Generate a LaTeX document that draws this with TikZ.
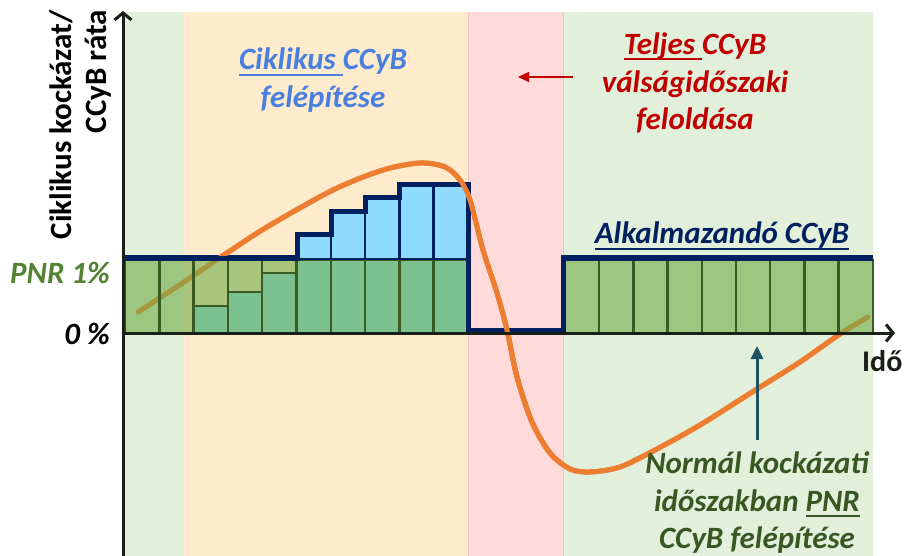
\documentclass[tikz,border=0pt]{standalone}
\usepackage{fontspec}
\setmainfont{Carlito}
\usetikzlibrary{arrows.meta}
\definecolor{bggreen}{HTML}{E2EFDA}
\definecolor{bgorange}{HTML}{FDEBCB}
\definecolor{bgpink}{HTML}{FFDADA}
\definecolor{pinkedge}{HTML}{F5C2C2}
\definecolor{xlgreen}{HTML}{70AD47}
\definecolor{tealgreen}{HTML}{7BC08F}
\definecolor{skyblue}{HTML}{8EDBFF}
\definecolor{navyc}{HTML}{002060}
\definecolor{barline}{HTML}{3A5A24}
\definecolor{curveor}{HTML}{ED7D31}
\definecolor{darkred}{HTML}{C00000}
\definecolor{txtblue}{HTML}{4A7FE0}
\definecolor{pnrgreen}{HTML}{548235}
\definecolor{dkgreen}{HTML}{385723}
\definecolor{arrteal}{HTML}{1F5361}
\definecolor{axiscol}{HTML}{1A1F17}
\newcommand\myul[1]{\setbox0=\hbox{#1}\rlap{\rule[-0.19em]{\wd0}{0.065em}}\box0}
\tikzset{
  lbl/.style={font=\fontsize{31}{37.5}\selectfont\bfseries\itshape, align=center, inner sep=0pt},
  curvestyle/.style={curveor, line width=5pt, line cap=round},
  curvepath/.style={insert path={plot[smooth, tension=0.5] coordinates {(138,312) (178,286) (218,259) (267,227) (333,190) (383,170) (420,163) (445,167) (460,180) (470,200) (483,250) (497,293) (507,330) (517,377) (532,422) (550,453) (570,469) (590,472) (620,467) (655,450) (700,425) (757,389) (800,362) (840,334) (868,317)}}},
  lgbar/.style={fill=xlgreen, fill opacity=0.6, draw=barline, draw opacity=1, line width=2.5pt},
  tgbar/.style={fill=tealgreen, draw=barline, line width=2.5pt},
  blbar/.style={fill=skyblue, draw=navyc, line width=2.5pt},
  axisline/.style={axiscol, line width=3pt, -{Straight Barb[length=7pt,width=17pt]}}
}
\begin{document}
\begin{tikzpicture}[x=1pt,y=-1pt]
\useasboundingbox (0,0) rectangle (905,556);
% background bands
\fill[bggreen] (123,12) rectangle (184,556);
\fill[bgorange] (184,12) rectangle (468,556);
\fill[bgpink] (468,12) rectangle (563,556);
\fill[bggreen] (563,12) rectangle (873,556);
\draw[pinkedge, line width=0.8pt] (468,12) -- (468,556) (563,12) -- (563,556);
% curve under bars
\draw[curvestyle, curvepath];
% left bars
\foreach \i in {0,...,9}{
  \pgfmathsetmacro\xa{125+\i*34.3}
  \pgfmathsetmacro\xb{125+(\i+1)*34.3}
  \draw[lgbar] (\xa,260) rectangle (\xb,333);
}
\foreach \i/\t in {2/306,3/292,4/273,5/260,6/260,7/260,8/260,9/260}{
  \pgfmathsetmacro\xa{125+\i*34.3}
  \pgfmathsetmacro\xb{125+(\i+1)*34.3}
  \draw[tgbar] (\xa,\t) rectangle (\xb,333);
}
\foreach \i/\t in {5/235,6/212,7/198,8/185,9/185}{
  \pgfmathsetmacro\xa{125+\i*34.3}
  \pgfmathsetmacro\xb{125+(\i+1)*34.3}
  \draw[blbar] (\xa,\t) rectangle (\xb,259);
}
% right bars
\foreach \i in {0,...,8}{
  \pgfmathsetmacro\xa{565+\i*34.2}
  \pgfmathsetmacro\xb{565+(\i+1)*34.2}
  \draw[lgbar] (\xa,260) rectangle (\xb,333);
}
% applied CCyB line
\draw[navyc, line width=5pt, line join=miter] (125,258) -- (297,258) -- (297,235) -- (331,235) -- (331,212) -- (365,212) -- (365,198) -- (399,198) -- (399,185) -- (468,185) -- (468,330) -- (563,330) -- (563,258) -- (873,258);
% curve above everything outside bars
\begin{scope}
  \clip (0,0) rectangle (905,256);
  \draw[curvestyle, curvepath];
\end{scope}
\begin{scope}
  \clip (470,256) rectangle (561,556);
  \draw[curvestyle, curvepath];
\end{scope}
\begin{scope}
  \clip (0,335) rectangle (905,556);
  \draw[curvestyle, curvepath];
\end{scope}
% axes
\coordinate (yb) at (123,556);
\coordinate (yt) at (123,11);
\coordinate (xl) at (123,333);
\coordinate (xr) at (895,333);
\draw[axisline] (yb) -- (yt);
\draw[axisline] (xl) -- (xr);
% labels
\node[font=\fontsize{31}{35}\selectfont\bfseries, rotate=90, anchor=east, align=right, inner sep=0pt] (ylab) at (81,10) {Ciklikus kockázat/\\CCyB ráta};
\node[lbl, text=txtblue] (cyc) at (323,80) {\myul{Ciklikus\ }CCyB\\felépítése};
\node[lbl, text=darkred] (full) at (695,83) {\myul{Teljes\ }CCyB\\válságidőszaki\\feloldása};
\node[lbl, text=navyc] (appl) at (722,236) {\myul{Alkalmazandó CCyB}};
\node[lbl, text=pnrgreen, anchor=east] (pnr) at (110,273) {PNR 1\%};
\node[lbl, text=black, anchor=east] (zero) at (110,334) {0 \%};
\node[font=\fontsize{30}{37}\selectfont\bfseries, inner sep=0pt, anchor=west, text=axiscol] (ido) at (862,361) {Idő};
\node[lbl, text=dkgreen] (norm) at (757,503) {Normál kockázati\\időszakban \myul{PNR}\\CCyB felépítése};
% arrows
\coordinate (ra) at (573,77);
\coordinate (rb) at (518,77);
\draw[darkred, line width=1.5pt, -{Triangle[length=11pt,width=10pt]}] (ra) -- (rb);
\coordinate (ta) at (757,440);
\coordinate (tb) at (757,346);
\draw[arrteal, line width=3pt, -{Triangle[length=13pt,width=12pt]}] (ta) -- (tb);
\end{tikzpicture}
\end{document}
